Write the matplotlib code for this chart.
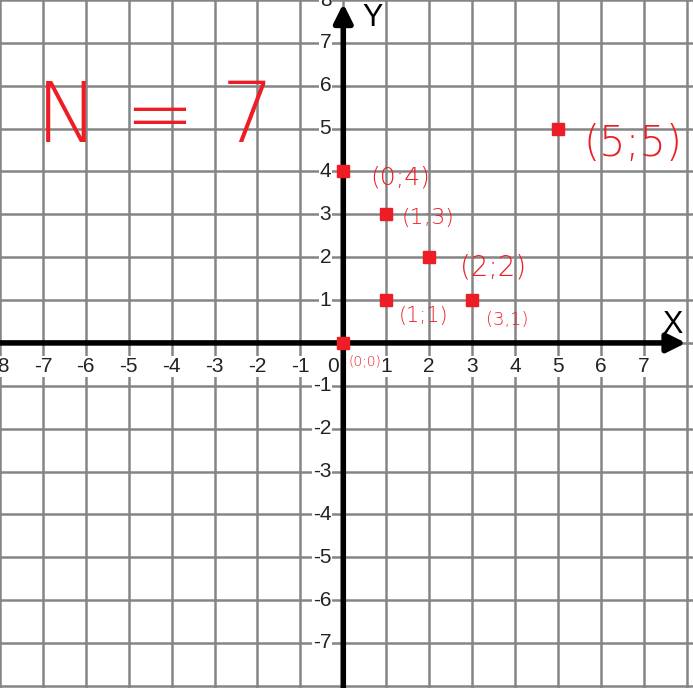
import matplotlib.pyplot as plt

# points and their hand-written labels
pts_x = [0, 0, 1, 2, 1, 3, 5]
pts_y = [0, 4, 3, 2, 1, 1, 5]
pt_labels = ["(0;0)", "(0;4)", "(1;3)", "(2;2)", "(1;1)", "(3,1)", "(5;5)"]
# label centres and sizes
lab_x = [0.5, 1.33, 1.98, 3.5, 1.86, 3.82, 6.76]
lab_y = [-0.44, 3.85, 2.91, 1.75, 0.63, 0.54, 4.66]
lab_size = [10, 18, 16, 20, 15, 13, 30]

x_ticks = list(range(-8, 8))
y_ticks = list(range(-7, 9))

RED = "#ee1c24"

fig = plt.figure(figsize=(6.93, 6.88), dpi=100)
ax = fig.add_axes([0, 0, 1, 1])
ax.set_xlim(-8.0, 8.15)
ax.set_ylim(-8.05, 8.0)
ax.axis("off")

# grid
for g in range(-8, 9):
    ax.axvline(g, color="#858585", lw=1.8, zorder=1)
    ax.axhline(g, color="#858585", lw=1.8, zorder=1)

# tick labels
tick_font = dict(family=["Liberation Sans", "DejaVu Sans"], fontsize=15, color="#222222")
box = dict(fc="white", ec="none", pad=0.6)
for t in x_ticks:
    xx = -0.23 if t == 0 else t
    ax.text(xx, -0.55, str(t), ha="center", va="center", bbox=box, zorder=3, **tick_font)
for t in y_ticks:
    if t == 0:
        continue
    ax.text(-0.28, t, str(t), ha="right", va="center", bbox=box, zorder=3, **tick_font)

# axes with arrows
ax.annotate("", xy=(8.05, 0), xytext=(-8.1, 0),
            arrowprops=dict(arrowstyle="-|>", lw=4, color="black", mutation_scale=28), zorder=4)
ax.annotate("", xy=(0, 7.98), xytext=(0, -8.2),
            arrowprops=dict(arrowstyle="-|>", lw=4, color="black", mutation_scale=28), zorder=4)
ax.text(7.67, 0.42, "X", fontsize=22, ha="center", va="center", family="Liberation Sans", zorder=4)
ax.text(0.68, 7.58, "Y", fontsize=22, ha="center", va="center", family="Liberation Sans", zorder=4)

# red points
ax.plot(pts_x, pts_y, "s", color=RED, ms=8, zorder=5)

for lbl, lx, ly, fs in zip(pt_labels, lab_x, lab_y, lab_size):
    ax.text(lx, ly, lbl, color=RED, fontsize=fs, ha="center", va="center",
            family="DejaVu Sans", fontweight="light", zorder=5)

ax.text(-4.38, 5.24, "N = 7", color=RED, fontsize=60, ha="center", va="center",
        family="DejaVu Sans", fontweight="light", zorder=5)

fig.savefig("out.png", dpi=100)
